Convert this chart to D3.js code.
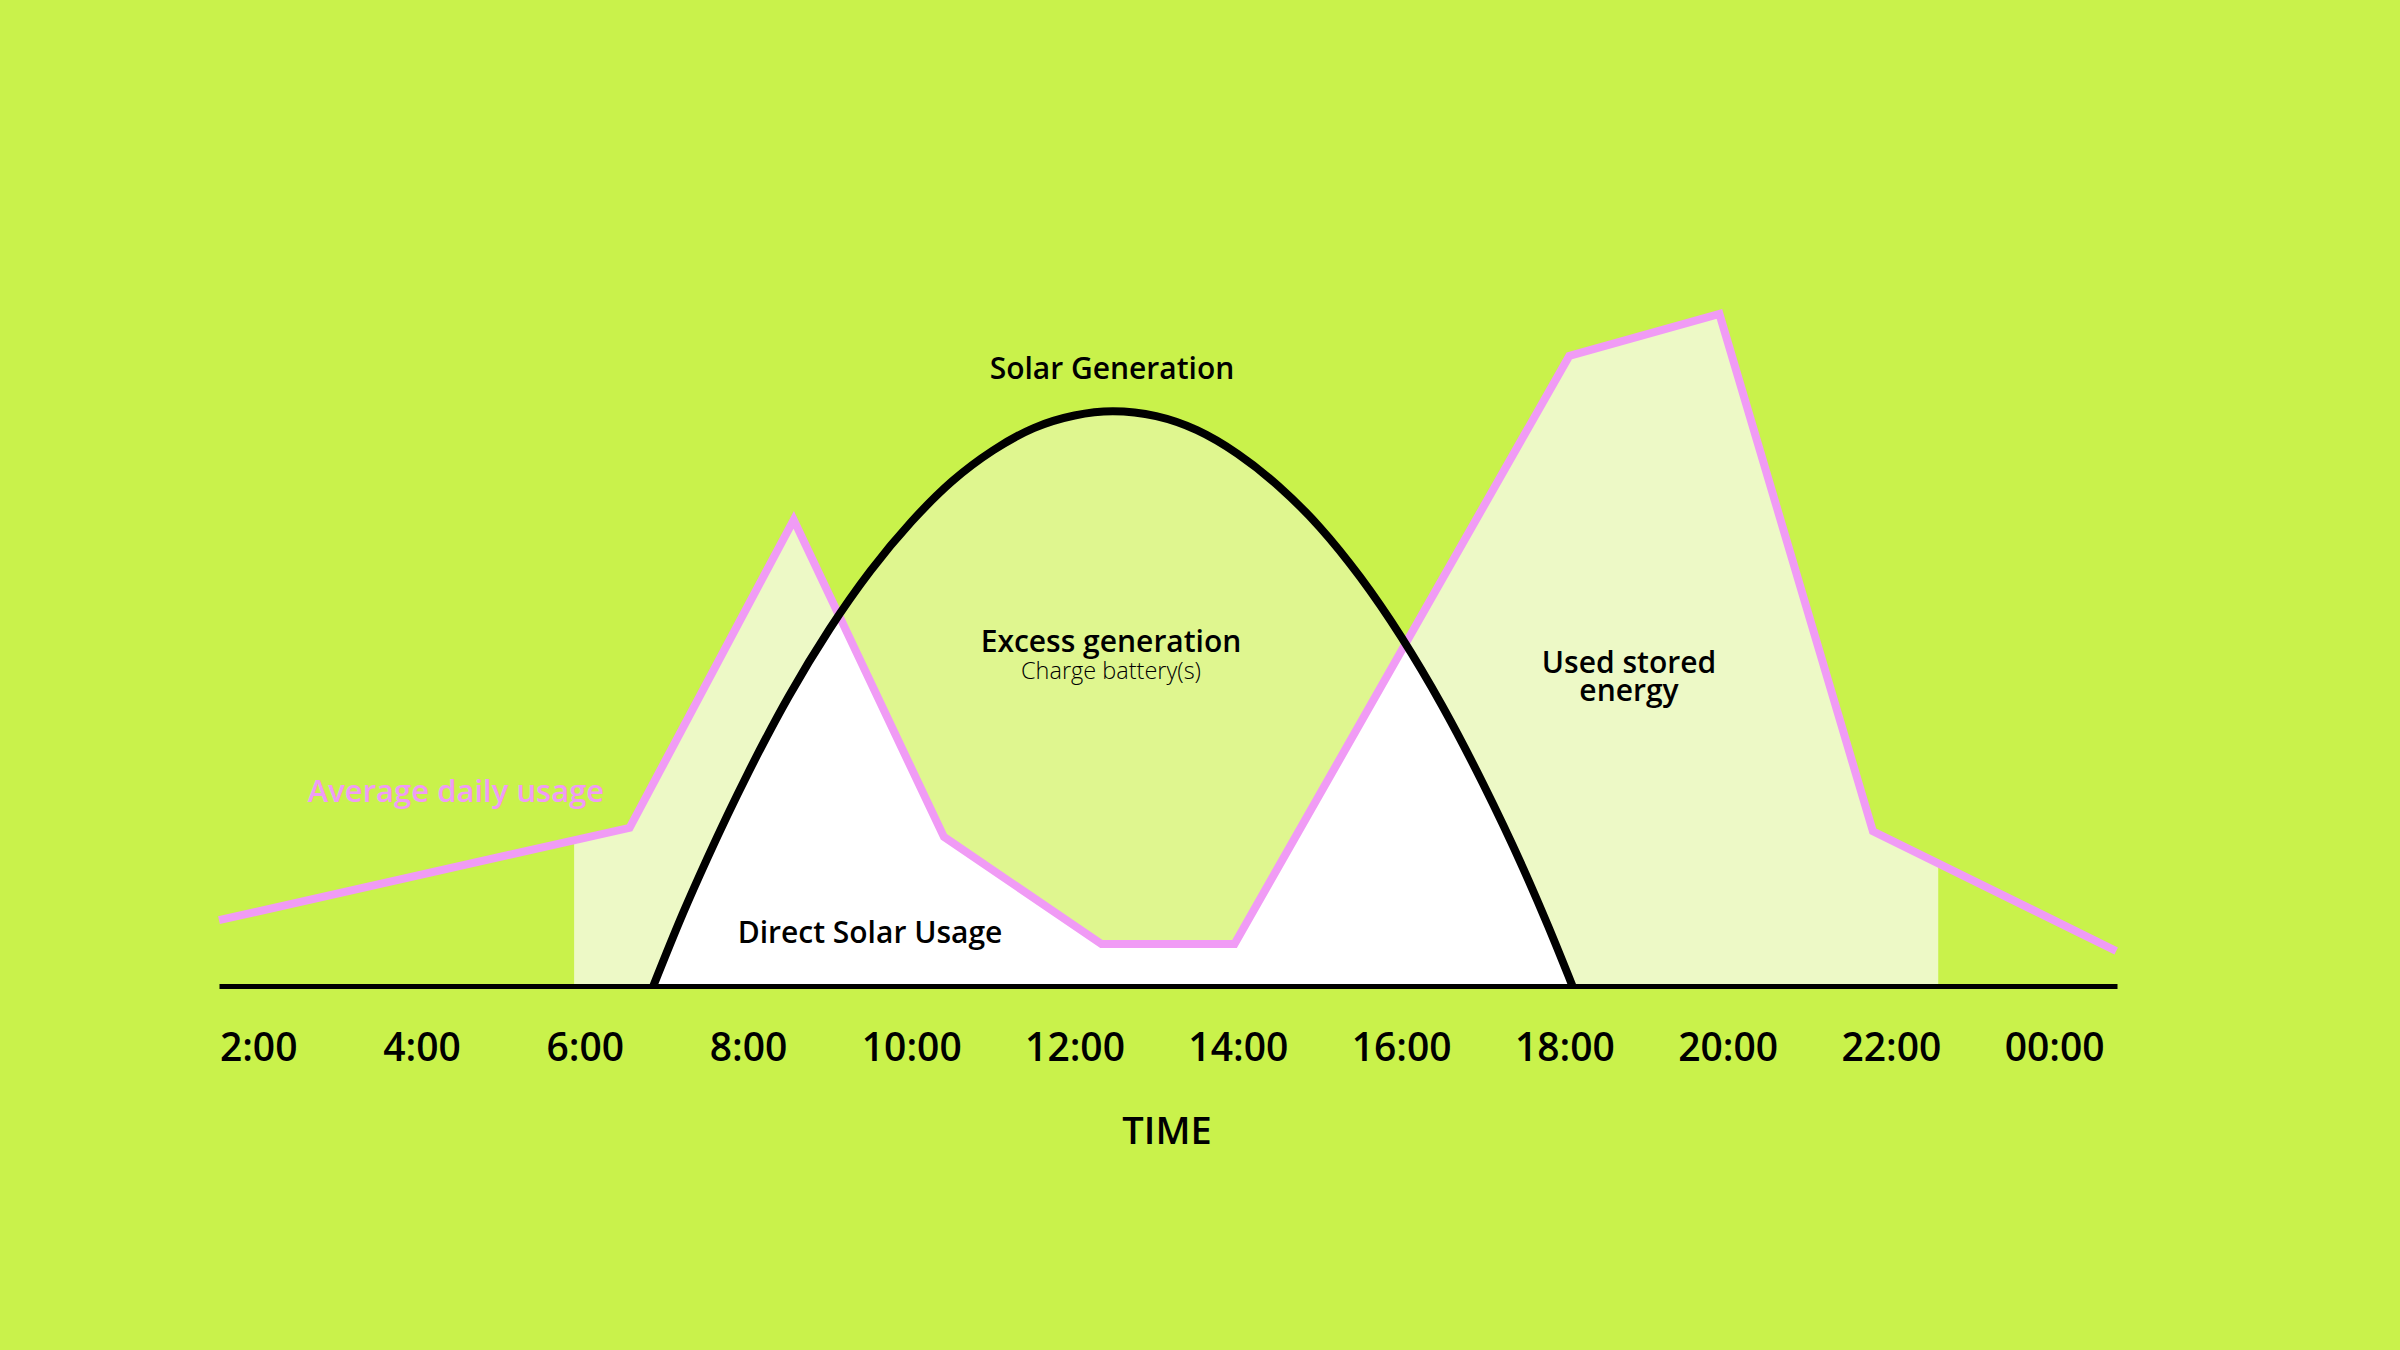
<!DOCTYPE html>
<html>
<head>
<meta charset="utf-8">
<script src="https://cdn.jsdelivr.net/npm/d3@7"></script>
<style>
  html, body { margin: 0; padding: 0; background: #c9f24b; }
  svg { display: block; }
  text { font-family: "Open Sans", sans-serif; }
</style>
</head>
<body>
<svg width="2400" height="1350"></svg>
<script>
// average daily usage (hour of day, relative load)
const usageHours = [1.52, 6.55, 8.56, 10.4, 12.33, 13.96, 18.06, 19.9, 21.78, 24.76];
const usageValues = [9.4, 22.6, 66.6, 21.3, 6.0, 6.0, 90.0, 96.0, 22.1, 5.0];

// solar generation curve
const solarHours = [6.84, 7.2, 7.5, 8, 8.5, 9, 9.5, 10, 10.5, 11, 11.5, 12, 12.47,
  13, 13.5, 14, 14.5, 15, 15.5, 16, 16.5, 17, 17.5, 17.8, 18.1];
const solarValues = [0, 10.3, 18.2, 30.4, 41.4, 51.0, 59.3, 66.3, 72.1, 76.5, 79.7, 81.5, 82.1,
  81.4, 79.4, 76.0, 71.4, 65.6, 58.4, 49.9, 40.1, 29.0, 16.7, 8.6, 0];

// hours where stored energy shading starts / ends
const storedWindow = [5.87, 22.58];

const tickHours = [2, 4, 6, 8, 10, 12, 14, 16, 18, 20, 22, 24];
const tickLabels = ["2:00", "4:00", "6:00", "8:00", "10:00", "12:00", "14:00",
  "16:00", "18:00", "20:00", "22:00", "00:00"];

const svg = d3.select("svg");

const x = d3.scaleLinear().domain([1.52, 24.77]).range([219, 2117]);
const y = d3.scaleLinear().domain([0, 100]).range([986, 286]);

const usage = usageHours.map((h, i) => ({ h: h, v: usageValues[i] }));
const solar = solarHours.map((h, i) => ({ h: h, v: solarValues[i] }));

const usageArea = d3.area()
  .x(d => x(d.h))
  .y0(y(0))
  .y1(d => y(d.v));

const solarArea = d3.area()
  .curve(d3.curveMonotoneX)
  .x(d => x(d.h))
  .y0(y(0))
  .y1(d => y(d.v));

const defs = svg.append("defs");

defs.append("clipPath")
  .attr("id", "stored-clip")
  .append("rect")
  .attr("x", x(storedWindow[0]))
  .attr("width", x(storedWindow[1]) - x(storedWindow[0]))
  .attr("y", 0)
  .attr("height", y(0));

defs.append("clipPath")
  .attr("id", "solar-clip")
  .append("path")
  .attr("d", solarArea(solar));

// light fill under usage
svg.append("path")
  .attr("d", usageArea(usage))
  .attr("fill", "#edf9c6")
  .attr("clip-path", "url(#stored-clip)");

// excess generation
svg.append("path")
  .attr("d", solarArea(solar))
  .attr("fill", "#dff68f");

// direct solar usage = usage inside solar curve
svg.append("path")
  .attr("d", usageArea(usage))
  .attr("fill", "#ffffff")
  .attr("clip-path", "url(#solar-clip)");

// x axis
const axis = svg.append("g")
  .attr("transform", `translate(0,${y(0)})`)
  .call(d3.axisBottom(x)
    .tickValues(tickHours)
    .tickFormat((d, i) => tickLabels[i])
    .tickSize(0)
    .tickSizeOuter(0)
    .tickPadding(47));

axis.select(".domain")
  .attr("stroke", "#000")
  .attr("stroke-width", 5);

axis.selectAll("text")
  .attr("fill", "#000")
  .style("font-family", "'Open Sans', sans-serif")
  .style("font-size", "39px")
  .style("font-weight", 600);

// usage line
svg.append("path")
  .attr("d", d3.line().x(d => x(d.h)).y(d => y(d.v))(usage))
  .attr("fill", "none")
  .attr("stroke", "#f09bf5")
  .attr("stroke-width", 8)
  .attr("stroke-linejoin", "miter");

// solar line
svg.append("path")
  .attr("d", d3.line().curve(d3.curveMonotoneX).x(d => x(d.h)).y(d => y(d.v))(solar))
  .attr("fill", "none")
  .attr("stroke", "#000")
  .attr("stroke-width", 8);

// labels
const labels = [
  { text: "Solar Generation", x: 1112, y: 379, size: 30, weight: 600, color: "#000" },
  { text: "Excess generation", x: 1111, y: 652, size: 30, weight: 600, color: "#000" },
  { text: "Charge battery(s)", x: 1111, y: 679, size: 23.5, weight: 300, color: "#000" },
  { text: "Direct Solar Usage", x: 870, y: 943, size: 30, weight: 600, color: "#000" },
  { text: "Used stored", x: 1629, y: 673, size: 30, weight: 600, color: "#000" },
  { text: "energy", x: 1629, y: 701, size: 30, weight: 600, color: "#000" },
  { text: "Average daily usage", x: 456, y: 802, size: 31, weight: 600, color: "#f09bf5" },
  { text: "TIME", x: 1167, y: 1144, size: 38, weight: 600, color: "#000" }
];

svg.selectAll("text.label")
  .data(labels)
  .enter()
  .append("text")
  .attr("class", "label")
  .attr("x", d => d.x)
  .attr("y", d => d.y)
  .attr("text-anchor", "middle")
  .attr("fill", d => d.color)
  .style("font-size", d => d.size + "px")
  .style("font-weight", d => d.weight)
  .text(d => d.text);
</script>
</body>
</html>
